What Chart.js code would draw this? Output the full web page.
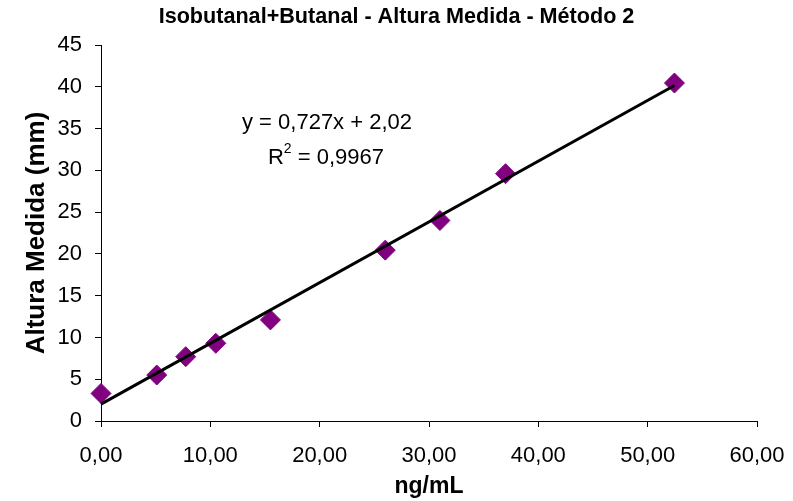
<!DOCTYPE html>
<html>
<head>
  <title>Isobutanal+Butanal - Altura Medida - Método 2</title>
  <script src="https://cdn.jsdelivr.net/npm/chart.js"></script>
  <style>
    body { margin: 0; background: #fff; }
    #chart-container { width: 793px; height: 501px; }
  </style>
</head>
<body>
  <div id="chart-container">
    <canvas id="calibChart" width="793" height="501"></canvas>
  </div>

  <script>
    // dados
    const concentracao = [0, 5.1, 7.75, 10.5, 15.5, 26.0, 31.0, 37.0, 52.45];   // ng/mL
    const alturaMedida = [3.3, 5.5, 7.7, 9.3, 12.1, 20.45, 24.0, 29.6, 40.45];  // mm
    const xTickLabels = ['0,00', '10,00', '20,00', '30,00', '40,00', '50,00', '60,00'];
    const yTickLabels = ['0', '5', '10', '15', '20', '25', '30', '35', '40', '45'];

    // linha de tendência (Excel): y = 0,727x + 2,02
    const slope = 0.727;
    const intercept = 2.02;
    const eqText = 'y = 0,727x + 2,02';
    const r2Text = '0,9967';

    const FONT = '"Liberation Sans", Arial, sans-serif';

    const points = concentracao.map((x, i) => ({ x: x, y: alturaMedida[i] }));
    const xMin = Math.min(...concentracao);
    const xMax = Math.max(...concentracao);
    const trend = [xMin, xMax].map(x => ({ x: x, y: slope * x + intercept }));

    const equationPlugin = {
      id: 'equation',
      afterDraw(chart) {
        const ctx = chart.ctx;
        ctx.save();
        ctx.fillStyle = '#000';
        ctx.textBaseline = 'middle';
        ctx.font = '22px ' + FONT;
        ctx.textAlign = 'center';
        ctx.fillText(eqText, 327, 123);

        // R² = 0,9967 com expoente
        const rest = ' = ' + r2Text;
        const wR = ctx.measureText('R').width;
        const wRest = ctx.measureText(rest).width;
        ctx.font = '14px ' + FONT;
        const w2 = ctx.measureText('2').width;
        const total = wR + w2 + wRest;
        let x0 = 326 - total / 2;
        ctx.textAlign = 'left';
        ctx.font = '22px ' + FONT;
        ctx.fillText('R', x0, 158);
        ctx.font = '14px ' + FONT;
        ctx.fillText('2', x0 + wR, 149);
        ctx.font = '22px ' + FONT;
        ctx.fillText(rest, x0 + wR + w2, 158);
        ctx.restore();
      }
    };

    const chart = new Chart(document.getElementById('calibChart'), {
      type: 'scatter',
      data: {
        datasets: [{
          label: 'Tendência',
          type: 'line',
          data: trend,
          borderColor: '#000',
          borderWidth: 3,
          pointRadius: 0,
          fill: false,
          clip: false
        }, {
          label: 'Isobutanal+Butanal',
          data: points,
          pointStyle: 'rectRot',
          pointRadius: 10,
          backgroundColor: '#800080',
          borderColor: '#800080',
          borderWidth: 1,
          clip: false
        }]
      },
      options: {
        responsive: false,
        animation: false,
        layout: { padding: 0 },
        plugins: {
          legend: { display: false },
          tooltip: { enabled: false },
          title: {
            display: true,
            text: 'Isobutanal+Butanal - Altura Medida - Método 2',
            color: '#000',
            font: { family: FONT, size: 21.6, weight: 'bold' },
            padding: { top: 4, bottom: 15.1 }
          }
        },
        scales: {
          x: {
            type: 'linear',
            min: 0,
            max: 60,
            ticks: {
              stepSize: 10,
              color: '#000',
              padding: 16,
              maxRotation: 0,
              font: { family: FONT, size: 22 },
              callback: (v, i) => xTickLabels[i]
            },
            grid: { drawOnChartArea: false, drawTicks: true, tickLength: 6, color: '#000' },
            border: { display: true, color: '#000', width: 1 },
            title: {
              display: true,
              text: 'ng/mL',
              color: '#000',
              font: { family: FONT, size: 23, weight: 'bold' },
              padding: { top: 0, bottom: 1 }
            },
            afterFit: s => { s.height = 80; s.paddingLeft = 0; s.paddingRight = 36; }
          },
          y: {
            min: 0,
            max: 45,
            ticks: {
              stepSize: 5,
              color: '#000',
              padding: 13,
              font: { family: FONT, size: 22 },
              callback: (v, i) => yTickLabels[i]
            },
            grid: { drawOnChartArea: false, drawTicks: true, tickLength: 6, color: '#000' },
            border: { display: true, color: '#000', width: 1 },
            title: {
              display: true,
              text: 'Altura Medida (mm)',
              color: '#000',
              font: { family: FONT, size: 26, weight: 'bold' },
              padding: { top: 21, bottom: 0 }
            },
            afterFit: s => { s.width = 101; }
          }
        }
      },
      plugins: [equationPlugin]
    });
  </script>
</body>
</html>
